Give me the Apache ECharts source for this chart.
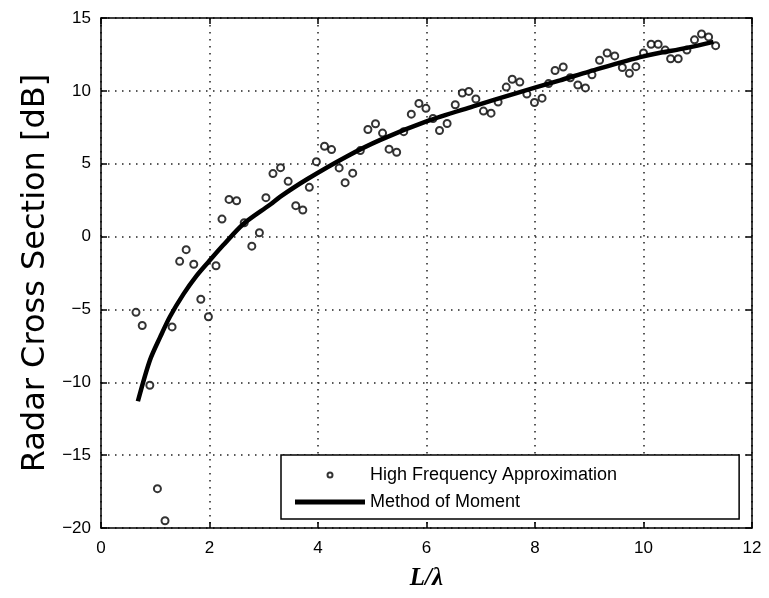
<!DOCTYPE html>
<html>
<head>
<meta charset="utf-8">
<script src="https://cdn.jsdelivr.net/npm/echarts@6/dist/echarts.min.js"></script>
<style>
  html, body { margin: 0; padding: 0; background: #fff; }
  #chart { width: 769px; height: 598px; }
</style>
</head>
<body>
<div id="chart"></div>
<script>
// High Frequency Approximation (scatter)
const hfaX = [0.645, 0.76, 0.90, 1.04, 1.18, 1.31, 1.45, 1.57, 1.71, 1.84, 1.98, 2.12, 2.23, 2.36, 2.50,
  2.64, 2.78, 2.92, 3.04, 3.17, 3.31, 3.45, 3.59, 3.72, 3.84, 3.97, 4.12, 4.25, 4.39, 4.50, 4.64, 4.78,
  4.92, 5.06, 5.19, 5.31, 5.45, 5.58, 5.72, 5.86, 5.99, 6.12, 6.24, 6.38, 6.53, 6.66, 6.78, 6.91, 7.05,
  7.19, 7.32, 7.47, 7.58, 7.72, 7.85, 7.99, 8.13, 8.25, 8.37, 8.52, 8.65, 8.79, 8.93, 9.05, 9.19, 9.33,
  9.47, 9.61, 9.74, 9.86, 10.0, 10.14, 10.27, 10.4, 10.5, 10.64, 10.8, 10.94, 11.07, 11.2, 11.33];
const hfaY = [-5.2, -6.1, -10.2, -17.3, -19.5, -6.2, -1.7, -0.9, -1.9, -4.3, -5.5, -2.0, 1.2, 2.55, 2.46,
  0.95, -0.66, 0.26, 2.67, 4.32, 4.73, 3.79, 2.12, 1.82, 3.38, 5.14, 6.2, 5.97, 4.71, 3.7, 4.35, 5.9,
  7.35, 7.74, 7.1, 6.0, 5.79, 7.2, 8.4, 9.14, 8.8, 8.1, 7.28, 7.76, 9.05, 9.85, 9.96, 9.44, 8.61,
  8.47, 9.23, 10.26, 10.8, 10.6, 9.78, 9.2, 9.5, 10.5, 11.4, 11.64, 10.9, 10.4, 10.2, 11.1, 12.1, 12.6,
  12.4, 11.6, 11.2, 11.66, 12.6, 13.2, 13.2, 12.8, 12.2, 12.2, 12.8, 13.5, 13.9, 13.7, 13.1];

// Method of Moment (line)
const momX = [0.68, 0.90, 1.09, 1.27, 1.52, 1.76, 1.98, 2.25, 2.62, 3.12, 3.30, 3.79, 4.53, 5.14,
  6.0, 6.86, 7.66, 8.46, 9.01, 10.0, 10.8, 11.29];
const momY = [-11.3, -8.5, -6.9, -5.5, -3.95, -2.7, -1.74, -0.6, 0.85, 2.2, 2.73, 3.92, 5.5, 6.62,
  7.9, 8.93, 9.85, 10.72, 11.34, 12.37, 12.95, 13.36];

const chart = echarts.init(document.getElementById('chart'));

const font = 'Liberation Sans, Arial, sans-serif';
const gridLine = { show: true, lineStyle: { color: '#222', width: 1.5, type: [1.5, 5.5] } };
const boxLine = { show: true, onZero: false, lineStyle: { color: '#000', width: 1.5 } };
const tick = { show: true, inside: true, length: 6, lineStyle: { color: '#000', width: 1.5 } };

chart.setOption({
  backgroundColor: '#fff',
  animation: false,
  grid: { left: 101, right: 17, top: 18, bottom: 70 },
  legend: {
    left: 281,
    top: 455,
    orient: 'vertical',
    backgroundColor: '#fff',
    borderColor: '#000',
    borderWidth: 1.5,
    borderRadius: 0,
    padding: [11, 122, 8, 14],
    itemWidth: 70,
    itemHeight: 5,
    itemGap: 9,
    textStyle: { fontFamily: font, fontSize: 18, color: '#000' },
    data: [
      { name: 'High Frequency Approximation', icon: 'emptyCircle' },
      { name: 'Method of Moment', icon: 'rect' }
    ]
  },
  xAxis: [
    {
      type: 'value', min: 0, max: 12, interval: 2,
      name: 'L/λ', nameLocation: 'middle', nameGap: 38,
      nameTextStyle: { fontFamily: 'Liberation Serif, serif', fontStyle: 'italic', fontWeight: 'bold', fontSize: 25, color: '#000' },
      axisLine: boxLine, axisTick: tick, splitLine: gridLine,
      axisLabel: { fontFamily: font, fontSize: 17, color: '#000', margin: 12 }
    },
    {
      type: 'value', min: 0, max: 12, interval: 2, position: 'top',
      axisLine: boxLine, axisTick: tick, splitLine: { show: false }, axisLabel: { show: false }
    }
  ],
  yAxis: [
    {
      type: 'value', min: -20, max: 15, interval: 5,
      name: 'Radar Cross Section [dB]', nameLocation: 'middle', nameGap: 48,
      nameTextStyle: { fontFamily: 'DejaVu Sans, sans-serif', fontSize: 32, color: '#000' },
      axisLine: boxLine, axisTick: tick, splitLine: gridLine,
      axisLabel: {
        fontFamily: font, fontSize: 17, color: '#000', margin: 10,
        formatter: (v) => String(v).replace('-', '\u2212')
      }
    },
    {
      type: 'value', min: -20, max: 15, interval: 5, position: 'right',
      axisLine: boxLine, axisTick: tick, splitLine: { show: false }, axisLabel: { show: false }
    }
  ],
  series: [
    {
      name: 'High Frequency Approximation',
      type: 'scatter',
      symbol: 'emptyCircle',
      symbolSize: 7,
      itemStyle: { color: '#000', borderColor: '#000', borderWidth: 2 },
      data: hfaX.map((x, i) => [x, hfaY[i]])
    },
    {
      name: 'Method of Moment',
      type: 'line',
      smooth: 0.3,
      showSymbol: false,
      symbol: 'none',
      lineStyle: { color: '#000', width: 4.5 },
      itemStyle: { color: '#000' },
      data: momX.map((x, i) => [x, momY[i]])
    }
  ]
});
</script>
</body>
</html>
